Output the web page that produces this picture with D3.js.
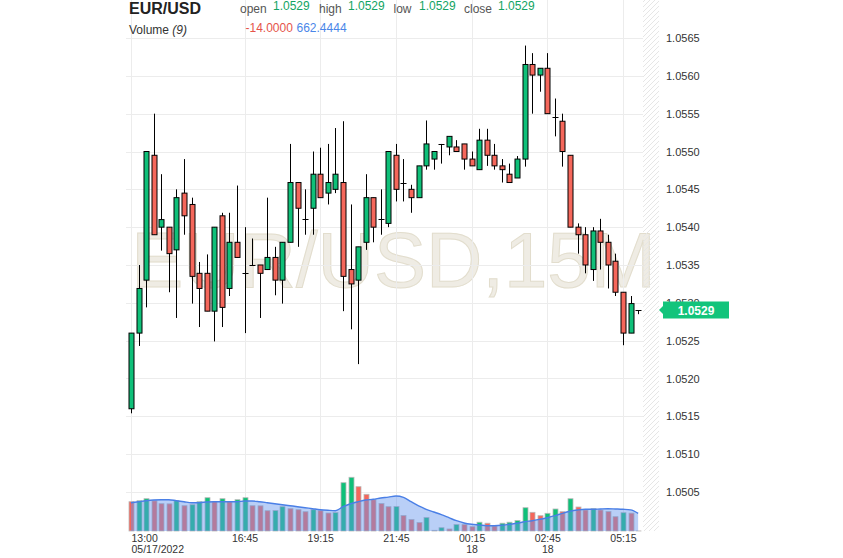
<!DOCTYPE html>
<html>
<head>
<meta charset="utf-8">
<script src="https://cdn.jsdelivr.net/npm/d3@7"></script>
<style>
    body { margin: 0; background: #fff; }
    svg { display: block; font-family: "Liberation Sans", Arial, sans-serif; }
</style>
</head>
<body>
<div id="wrapper"></div>
<script>
// 15 minute bars, EUR/USD, 05/17/2022 13:00 -> 05/18 05:45
const openP = [1.05160, 1.05260, 1.05330, 1.05495, 1.05400, 1.05400, 1.05370, 1.05445, 1.05430, 1.05339,
    1.05339, 1.05289, 1.05415, 1.05319, 1.05380, 1.05339, 1.05350, 1.05350, 1.05344, 1.05360,
    1.05330, 1.05380, 1.05459, 1.05411, 1.05425, 1.05470, 1.05445, 1.05450, 1.05459, 1.05344,
    1.05330, 1.05380, 1.05439, 1.05411, 1.05405, 1.05495, 1.05459, 1.05450, 1.05439, 1.05481,
    1.05490, 1.05510, 1.05506, 1.05506, 1.05510, 1.05490, 1.05476, 1.05515, 1.05495, 1.05481,
    1.05470, 1.05465, 1.05490, 1.05615, 1.05601, 1.05610, 1.05545, 1.05540, 1.05495, 1.05400,
    1.05390, 1.05344, 1.05395, 1.05380, 1.05355, 1.05314, 1.05260, 1.05290];
const highP = [1.05260, 1.05350, 1.05500, 1.05550, 1.05470, 1.05400, 1.05450, 1.05490, 1.05439, 1.05354,
    1.05364, 1.05400, 1.05419, 1.05419, 1.05455, 1.05400, 1.05385, 1.05350, 1.05439, 1.05374,
    1.05380, 1.05510, 1.05459, 1.05450, 1.05500, 1.05505, 1.05510, 1.05531, 1.05540, 1.05430,
    1.05374, 1.05470, 1.05439, 1.05450, 1.05500, 1.05510, 1.05490, 1.05456, 1.05481, 1.05541,
    1.05500, 1.05510, 1.05520, 1.05515, 1.05510, 1.05500, 1.05530, 1.05530, 1.05510, 1.05490,
    1.05484, 1.05494, 1.05640, 1.05630, 1.05610, 1.05630, 1.05570, 1.05550, 1.05495, 1.05405,
    1.05400, 1.05400, 1.05411, 1.05390, 1.05365, 1.05314, 1.05309, 1.05290];
const lowP = [1.05154, 1.05243, 1.05294, 1.05390, 1.05369, 1.05314, 1.05280, 1.05390, 1.05299, 1.05268,
    1.05289, 1.05249, 1.05268, 1.05309, 1.05360, 1.05260, 1.05350, 1.05280, 1.05344, 1.05310,
    1.05299, 1.05380, 1.05374, 1.05390, 1.05390, 1.05439, 1.05430, 1.05445, 1.05289, 1.05265,
    1.05219, 1.05370, 1.05380, 1.05390, 1.05400, 1.05434, 1.05434, 1.05419, 1.05439, 1.05476,
    1.05476, 1.05484, 1.05495, 1.05500, 1.05476, 1.05481, 1.05476, 1.05481, 1.05476, 1.05459,
    1.05459, 1.05465, 1.05480, 1.05550, 1.05579, 1.05550, 1.05520, 1.05480, 1.05400, 1.05365,
    1.05339, 1.05329, 1.05344, 1.05319, 1.05309, 1.05244, 1.05260, 1.05285];
const closeP = [1.05260, 1.05319, 1.05500, 1.05390, 1.05410, 1.05365, 1.05439, 1.05415, 1.05335, 1.05319,
    1.05289, 1.05400, 1.05294, 1.05380, 1.05360, 1.05339, 1.05350, 1.05339, 1.05360, 1.05330,
    1.05380, 1.05459, 1.05425, 1.05411, 1.05470, 1.05439, 1.05459, 1.05470, 1.05335, 1.05325,
    1.05374, 1.05439, 1.05400, 1.05411, 1.05500, 1.05450, 1.05459, 1.05439, 1.05481, 1.05510,
    1.05500, 1.05510, 1.05520, 1.05500, 1.05490, 1.05481, 1.05515, 1.05495, 1.05481, 1.05476,
    1.05459, 1.05490, 1.05615, 1.05601, 1.05610, 1.05550, 1.05545, 1.05500, 1.05400, 1.05390,
    1.05350, 1.05395, 1.05380, 1.05350, 1.05314, 1.05260, 1.05299, 1.05290];
const volume = [917, 948, 1011, 945, 855, 850, 948, 792, 823, 917,
    1042, 917, 1011, 915, 980, 1042, 792, 788, 635, 642,
    761, 698, 667, 604, 667, 635, 563, 576, 1512, 1681,
    1387, 1149, 980, 861, 761, 767, 485, 360, 266, 423,
    22, 103, 63, 203, 200, 135, 275, 244, 157, 244,
    275, 329, 729, 585, 479, 554, 689, 604, 1010, 751,
    657, 697, 657, 610, 448, 573, 559, 2];
const volumeMA = [886, 917, 948, 970, 980, 980, 948, 917, 886, 886,
    908, 917, 917, 917, 917, 939, 939, 917, 886, 854,
    823, 792, 761, 729, 698, 667, 648, 635, 761, 854,
    917, 970, 992, 1033, 1060, 1096, 1055, 917, 783, 679,
    595, 510, 416, 322, 250, 210, 188, 166, 166, 178,
    210, 241, 291, 322, 366, 416, 479, 554, 617, 657,
    679, 679, 689, 698, 689, 679, 662.4444, 554];

const tickIdx = [0, 15, 25, 35, 45, 55, 65];
const tickTime = ["13:00", "16:45", "19:15", "21:45", "00:15", "02:45", "05:15"];
const tickDay = ["05/17/2022", "", "", "", "18", "18", ""];
const priceTicks = [1.0505, 1.0510, 1.0515, 1.0520, 1.0525, 1.0530, 1.0535, 1.0540, 1.0545, 1.0550, 1.0555, 1.0560, 1.0565];
const lastPrice = 1.0529;

const upColor = '#0fc079';
const downColor = '#f5675b';

function drawChart() {
    let n = openP.length;

    //dimensions
    let dimensions = {
        width: 843,
        height: 558,
        plotLeft: 126,
        plotRight: 659,
        hatchLeft: 643,
        top: 38,
        priceBottom: 492,
        volBase: 531
    };

    const wrapper = d3.select('#wrapper');
    let svg = wrapper.append('svg')
        .attr('width', dimensions.width)
        .attr('height', dimensions.height);

    //scales
    let xScale = d3.scaleLinear()
        .domain([0, 65])
        .range([131, 623]);

    let yScale = d3.scaleLinear()
        .domain([1.0505, 1.0565])
        .range([dimensions.priceBottom, dimensions.top]);

    let vScale = d3.scaleLinear()
        .domain([0, 2000])
        .range([dimensions.volBase, dimensions.volBase - 2000 / 31.3]);

    //watermark
    svg.append('text')
        .attr('x', 393.5)
        .attr('y', 287)
        .attr('text-anchor', 'middle')
        .style('font-size', '78px')
        .style('fill', '#efece4')
        .style('stroke', '#e2ddcd')
        .style('stroke-width', 1)
        .text('EUR/USD,15M');

    //grid
    let grid = svg.append('g');
    grid.selectAll('.hg')
        .data(priceTicks)
        .join('line')
        .attr('x1', dimensions.plotLeft)
        .attr('x2', dimensions.hatchLeft)
        .attr('y1', d => Math.round(yScale(d)) + 0.5)
        .attr('y2', d => Math.round(yScale(d)) + 0.5)
        .attr('stroke', '#ececec');
    grid.selectAll('.vg')
        .data(tickIdx)
        .join('line')
        .attr('x1', d => Math.round(xScale(d)) + 0.5)
        .attr('x2', d => Math.round(xScale(d)) + 0.5)
        .attr('y1', 0)
        .attr('y2', dimensions.volBase)
        .attr('stroke', '#ececec');

    //hatched right edge
    let defs = svg.append('defs');
    let pat = defs.append('pattern')
        .attr('id', 'hatch')
        .attr('patternUnits', 'userSpaceOnUse')
        .attr('width', 5)
        .attr('height', 5);
    pat.append('path')
        .attr('d', 'M0,5 L5,0 M-1,1 L1,-1 M4,6 L6,4')
        .attr('stroke', '#e6e6e6')
        .attr('stroke-width', 1);
    svg.append('rect')
        .attr('x', dimensions.hatchLeft)
        .attr('y', 0)
        .attr('width', dimensions.plotRight - dimensions.hatchLeft)
        .attr('height', dimensions.volBase)
        .attr('fill', 'url(#hatch)');

    //volume bars
    let idx = d3.range(n);
    let vol = svg.append('g');
    vol.selectAll('rect')
        .data(idx)
        .join('rect')
        .attr('x', i => Math.round(xScale(i)) - 2)
        .attr('y', i => vScale(volume[i]))
        .attr('width', 5)
        .attr('height', i => dimensions.volBase - vScale(volume[i]))
        .attr('fill', i => (i > 0 && volume[i] > volume[i - 1]) ? upColor : downColor)
        .attr('stroke', '#b9b9b9')
        .attr('stroke-width', 0.8);

    //volume average (area + line)
    let areaGenerator = d3.area()
        .curve(d3.curveMonotoneX)
        .x(i => xScale(i))
        .y0(dimensions.volBase)
        .y1(i => vScale(volumeMA[i]));
    svg.append('path')
        .attr('d', areaGenerator(idx))
        .attr('fill', 'rgba(100,149,237,0.45)');

    let lineGenerator = d3.line()
        .curve(d3.curveMonotoneX)
        .x(i => xScale(i))
        .y(i => vScale(volumeMA[i]));
    svg.append('path')
        .attr('d', lineGenerator(idx))
        .attr('fill', 'none')
        .attr('stroke', '#4a7fe6')
        .attr('stroke-width', 1.4);

    //candles
    let candles = svg.append('g')
        .selectAll('g')
        .data(idx)
        .join('g');

    candles.append('line')
        .attr('x1', i => Math.round(xScale(i)) + 0.5)
        .attr('x2', i => Math.round(xScale(i)) + 0.5)
        .attr('y1', i => yScale(highP[i]))
        .attr('y2', i => yScale(lowP[i]))
        .attr('stroke', '#000')
        .attr('stroke-width', 1);

    candles.filter(i => openP[i] !== closeP[i])
        .append('rect')
        .attr('x', i => Math.round(xScale(i)) - 2)
        .attr('y', i => yScale(Math.max(openP[i], closeP[i])))
        .attr('width', 5)
        .attr('height', i => Math.max(1, Math.abs(yScale(openP[i]) - yScale(closeP[i]))))
        .attr('fill', i => closeP[i] > openP[i] ? upColor : downColor)
        .attr('stroke', '#000')
        .attr('stroke-width', 1);

    candles.filter(i => openP[i] === closeP[i])
        .append('line')
        .attr('x1', i => Math.round(xScale(i)) - 2.5)
        .attr('x2', i => Math.round(xScale(i)) + 3.5)
        .attr('y1', i => Math.round(yScale(openP[i])) + 0.5)
        .attr('y2', i => Math.round(yScale(openP[i])) + 0.5)
        .attr('stroke', '#000')
        .attr('stroke-width', 1);

    //y axis
    let yAxisGenerator = d3.axisRight()
        .scale(yScale)
        .tickValues(priceTicks)
        .tickSize(0)
        .tickPadding(7)
        .tickFormat(d3.format('.4f'));
    let yAxis = svg.append('g')
        .attr('transform', `translate(${dimensions.plotRight},0)`)
        .call(yAxisGenerator);
    yAxis.select('.domain').remove();
    yAxis.selectAll('text')
        .style('font-size', '11px')
        .style('fill', '#333')
        .style('font-family', '"Liberation Sans", Arial, sans-serif');

    //x axis labels (time + day line)
    let xAxisGenerator = d3.axisBottom()
        .scale(xScale)
        .tickValues(tickIdx)
        .tickSize(0)
        .tickPadding(4)
        .tickFormat((d, k) => tickTime[k]);
    let xAxis = svg.append('g')
        .attr('transform', `translate(0,${dimensions.volBase})`)
        .call(xAxisGenerator);
    xAxis.select('.domain').remove();
    xAxis.selectAll('.tick')
        .append('text')
        .attr('y', 15)
        .attr('dy', '0.71em')
        .text((d, k) => tickDay[k]);
    xAxis.selectAll('.tick text')
        .attr('x', 0)
        .attr('text-anchor', function () {
            return this.parentNode === xAxis.select('.tick').node() ? 'start' : 'middle';
        })
        .style('font-size', '10.5px')
        .style('fill', '#333')
        .style('font-family', '"Liberation Sans", Arial, sans-serif');

    //last price bubble
    let ly = Math.round(yScale(lastPrice));
    svg.append('path')
        .attr('d', `M659,${ly} L663,${ly - 4} L663,${ly - 8.5} L729,${ly - 8.5} L729,${ly + 8.5} L663,${ly + 8.5} L663,${ly + 4} Z`)
        .attr('fill', '#12c47b');
    svg.append('text')
        .attr('x', 696)
        .attr('y', ly + 4.5)
        .attr('text-anchor', 'middle')
        .style('font-size', '12px')
        .style('font-weight', 'bold')
        .style('fill', '#fff')
        .text(lastPrice.toFixed(4));

    //header
    let head = svg.append('g');
    head.append('text')
        .attr('x', 129).attr('y', 13.5)
        .style('font-size', '16px').style('font-weight', 'bold').style('fill', '#222')
        .text('EUR/USD');

    let ohlcLabels = ['open', 'high', 'low', 'close'];
    let ohlcLabelX = [240, 319, 393.5, 464];
    let ohlcValX = [273, 348, 419, 498];
    ohlcLabels.forEach((l, k) => {
        head.append('text')
            .attr('x', ohlcLabelX[k]).attr('y', 12.7)
            .style('font-size', '12px').style('fill', '#555')
            .text(l);
        head.append('text')
            .attr('x', ohlcValX[k]).attr('y', 9.5)
            .style('font-size', '12px').style('fill', '#13a463')
            .text(lastPrice.toFixed(4));
    });

    let volLabel = head.append('text')
        .attr('x', 129).attr('y', 34.3)
        .style('font-size', '12px').style('fill', '#333');
    volLabel.append('tspan').text('Volume ');
    volLabel.append('tspan').style('font-style', 'italic').text('(9)');

    head.append('text')
        .attr('x', 245.5).attr('y', 32.3)
        .style('font-size', '12px').style('fill', '#e5544a')
        .text((volume[66] - volume[65]).toFixed(4));
    head.append('text')
        .attr('x', 296.5).attr('y', 32.3)
        .style('font-size', '12px').style('fill', '#4a86e8')
        .text(volumeMA[66].toFixed(4));
}

drawChart();
</script>
</body>
</html>
